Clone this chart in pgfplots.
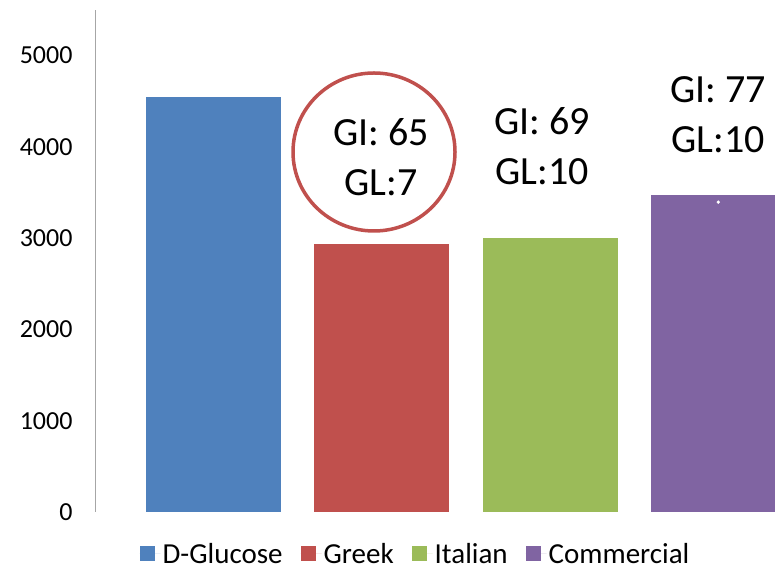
\documentclass[border=0pt]{standalone}
\usepackage{pgfplots}
\pgfplotsset{compat=1.18}
\usepackage{fontspec}
\setmainfont{Carlito}
\definecolor{cblue}{HTML}{4F81BD}
\definecolor{cred}{HTML}{C0504D}
\definecolor{cgreen}{HTML}{9BBB59}
\definecolor{cpurple}{HTML}{8064A2}
\definecolor{axgray}{HTML}{A6A6A6}
\begin{document}
\begin{tikzpicture}[x=1pt,y=1pt]
\useasboundingbox (0,0) rectangle (775,572);
\begin{axis}[
  at={(95pt,60pt)}, anchor=south west,
  scale only axis, width=680pt, height=502pt,
  xmin=-0.704, xmax=3.337, ymin=0, ymax=5500,
  ybar, bar width=135pt, bar shift=0pt,
  axis line style={draw=none},
  xtick=\empty,
  ytick={0,1000,2000,3000,4000,5000},
  major tick length=0pt,
  /pgf/number format/assume math mode=true,
  /pgf/number format/1000 sep={},
  yticklabel style={font=\fontsize{26}{30}\selectfont, anchor=east, xshift=-19pt},
  legend style={at={(0.4713,-0.0836)}, anchor=center, draw=none, fill=none,
    legend columns=4, font=\fontsize{29}{33}\selectfont,
    nodes={inner ysep=0.5pt},
    /tikz/every even column/.append style={column sep=16pt},
    legend cell align=left},
  legend image code/.code={\fill[#1] (0pt,-7.5pt) rectangle (15pt,7.5pt); \path (0pt,0pt) -- (21pt,0pt);},
  clip=true,
]
\addplot[fill=cblue, draw=none] coordinates {(0,4545)};
\addlegendentry{D-Glucose}
\addplot[fill=cred, draw=none] coordinates {(1,2935)};
\addlegendentry{Greek}
\addplot[fill=cgreen, draw=none] coordinates {(2,2998)};
\addlegendentry{Italian}
\addplot[fill=cpurple, draw=none] coordinates {(3,3472)};
\addlegendentry{Commercial}
\addplot[only marks, mark=*, mark size=1.5pt, white, forget plot] coordinates {(3,3395)};
\draw[axgray, line width=1.5pt] (rel axis cs:0,0) -- (rel axis cs:0,1);
\end{axis}
\draw[cred, line width=3.5pt] (374,420) ellipse (81pt and 79pt);
\node[align=center, font=\fontsize{40}{50}\selectfont, inner sep=0pt] at (381,415) {GI: 65\\GL:7};
\node[align=center, font=\fontsize{40}{50}\selectfont, inner sep=0pt] at (542,426) {GI: 69\\GL:10};
\node[align=center, font=\fontsize{40}{50}\selectfont, inner sep=0pt] at (718,457) {GI: 77\\GL:10};
\end{tikzpicture}
\end{document}
